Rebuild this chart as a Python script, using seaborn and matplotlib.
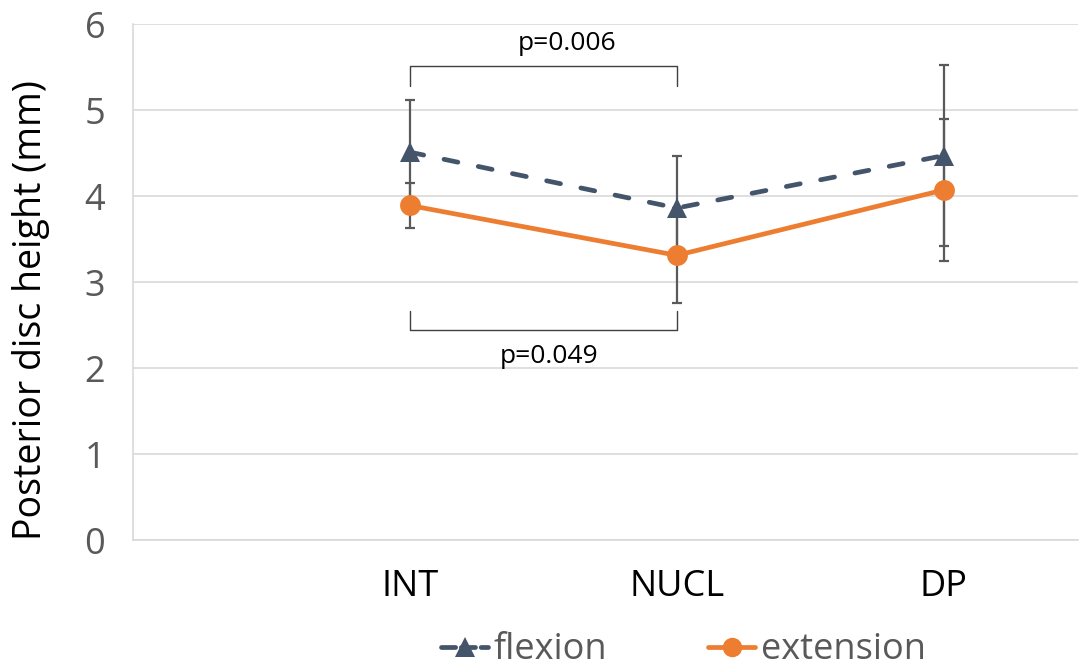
import matplotlib
matplotlib.use("Agg")
import matplotlib.pyplot as plt
import seaborn as sns
import pandas as pd
import numpy as np
from matplotlib.lines import Line2D

categories = ["INT", "NUCL", "DP"]
flexion = [4.51, 3.86, 4.47]
flexion_err = [0.61, 0.61, 1.05]
extension = [3.89, 3.31, 4.07]
extension_err = [0.26, 0.55, 0.83]
series_names = ["flexion", "extension"]
y_ticks = [0, 1, 2, 3, 4, 5, 6]

sns.set_theme(style="white")
plt.rcParams['font.family'] = ['Open Sans', 'DejaVu Sans']

C_FLEX = "#44546A"
C_EXT = "#ED7D31"
GRID = "#D9D9D9"
TXT = "#595959"
ERR = "#5A5A5A"

pos = list(range(len(categories)))
df = pd.DataFrame({
    "pos": pos * 2,
    "value": flexion + extension,
    "series": [series_names[0]] * 3 + [series_names[1]] * 3,
})

fig = plt.figure(figsize=(10.83, 6.71), dpi=100)
ax = fig.add_axes([133/1083, 131/671, (1078-133)/1083, (540-24)/671])

# error bars
for vals, errs in [(flexion, flexion_err), (extension, extension_err)]:
    ax.errorbar(pos, vals, yerr=errs, fmt="none", ecolor=ERR,
                elinewidth=1.6, capsize=3.6, capthick=1.6, zorder=2)

sns.lineplot(data=df, x="pos", y="value", hue="series", style="series",
             palette={"flexion": C_FLEX, "extension": C_EXT},
             markers={"flexion": "^", "extension": "o"},
             dashes={"flexion": (3.0, 4.4), "extension": ""},
             linewidth=3.4, markersize=15, markeredgewidth=0,
             ax=ax, zorder=3, legend=False)
for ln in ax.get_lines():
    ln.set_dash_capstyle("round")
    ln.set_solid_capstyle("round")

ax.set_xlim(-1.037, 2.503)
ax.set_ylim(0, 6)
ax.set_yticks(y_ticks)
ax.set_xticks(pos)
ax.set_xticklabels(categories, fontsize=26, color="black")
ax.tick_params(axis="y", labelsize=26, labelcolor=TXT, length=0, pad=20)
ax.tick_params(axis="x", length=0, pad=21)
ax.yaxis.grid(True, color=GRID, linewidth=1.2)
ax.set_axisbelow(True)
for s in ["top", "right"]:
    ax.spines[s].set_visible(False)
for s in ["left", "bottom"]:
    ax.spines[s].set_color(GRID)
    ax.spines[s].set_linewidth(1.2)
ax.set_xlabel("")
ax.set_ylabel("Posterior disc height (mm)", fontsize=27, color="black")
ax.yaxis.set_label_coords(-0.088, 0.446)

# significance brackets
ax.plot([0, 0, 1, 1], [5.28, 5.51, 5.51, 5.28], color="#404040", linewidth=1, clip_on=False)
ax.text(0.59, 5.77, "p=0.006", ha="center", va="center", fontsize=19, color="black")
ax.plot([0, 0, 1, 1], [2.66, 2.44, 2.44, 2.66], color="#404040", linewidth=1, clip_on=False)
ax.text(0.52, 2.13, "p=0.049", ha="center", va="center", fontsize=19, color="black")

# legend
handles = [
    Line2D([], [], color=C_FLEX, linestyle=(0, (3.0, 1.2)), linewidth=3.4, marker="^",
           markersize=14, markeredgewidth=0, dash_capstyle="round"),
    Line2D([], [], color=C_EXT, linewidth=3.4, marker="o", markersize=14,
           markeredgewidth=0, solid_capstyle="round"),
]
leg = fig.legend(handles, series_names, loc="center", bbox_to_anchor=(0.631, 0.031),
                 ncol=2, frameon=False, fontsize=26, handlelength=1.3, handletextpad=0.15,
                 columnspacing=2.8, borderpad=0)
for t in leg.get_texts():
    t.set_color(TXT)

fig.savefig("out.png", dpi=100)
